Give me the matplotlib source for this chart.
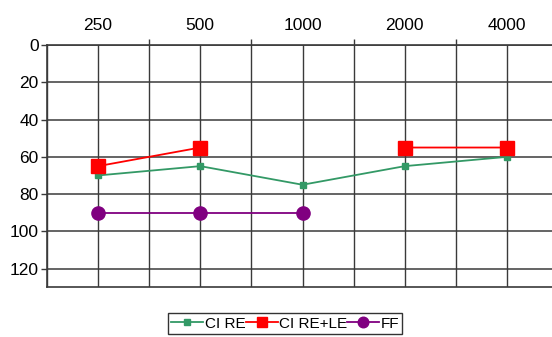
import numpy as np
import matplotlib
matplotlib.use('Agg')
import matplotlib.pyplot as plt

plt.rcParams['font.family'] = ['Liberation Sans', 'DejaVu Sans']

freqs = ['250', '500', '1000', '2000', '4000']
ci_re = [70, 65, 75, 65, 60]
ci_re_le = [65, 55, np.nan, 55, 55]
ff = [90, 90, 90, np.nan, np.nan]
y_ticks = [0, 20, 40, 60, 80, 100, 120]

x = np.arange(len(freqs))

fig = plt.figure(figsize=(5.52, 3.37), dpi=100)
ax = fig.add_axes([0.085, 0.148, 0.915, 0.718])

grid_col = '#3a3a3a'
for xv in np.arange(-0.5, len(freqs), 0.5):
    ax.axvline(xv, color=grid_col, lw=1.0, zorder=1)
for yv in y_ticks:
    ax.axhline(yv, color=grid_col, lw=1.1, zorder=1)

ax.plot(x, ci_re, color='#339966', marker='s', ms=5, lw=1.3, label='CI RE', zorder=3)
ax.plot(x, ci_re_le, color='#ff0000', marker='s', ms=9.5, lw=1.3, label='CI RE+LE', zorder=4)
ax.plot(x, ff, color='#800080', marker='o', ms=9.5, lw=1.3, label='FF', zorder=3)

ax.set_xlim(-0.5, 4.44)
ax.set_ylim(130, 0)

ax.xaxis.tick_top()
ax.set_xticks(x)
ax.set_xticklabels(freqs, fontsize=12.5)
ax.set_xticks(np.arange(0.5, 4.5, 1.0), minor=True)
ax.tick_params(axis='x', which='major', length=0, pad=9)
ax.tick_params(axis='x', which='minor', length=4, width=1, color=grid_col, top=True, bottom=False)
ax.set_yticks(y_ticks)
ax.tick_params(axis='y', labelsize=12.5, length=4, width=1, color=grid_col, pad=2)

for side in ['top', 'left', 'bottom']:
    ax.spines[side].set_color(grid_col)
    ax.spines[side].set_linewidth(1.2)
ax.spines['right'].set_visible(False)

leg = fig.legend(loc='center', bbox_to_anchor=(0.517, 0.04), ncol=3, fontsize=11,
                 frameon=True, fancybox=False, edgecolor='black', borderpad=0.2,
                 handlelength=2.1, handletextpad=0.1, columnspacing=0.0,
                 borderaxespad=0, markerscale=0.8)
leg.get_frame().set_linewidth(1.0)

fig.savefig('out.png', dpi=100)
